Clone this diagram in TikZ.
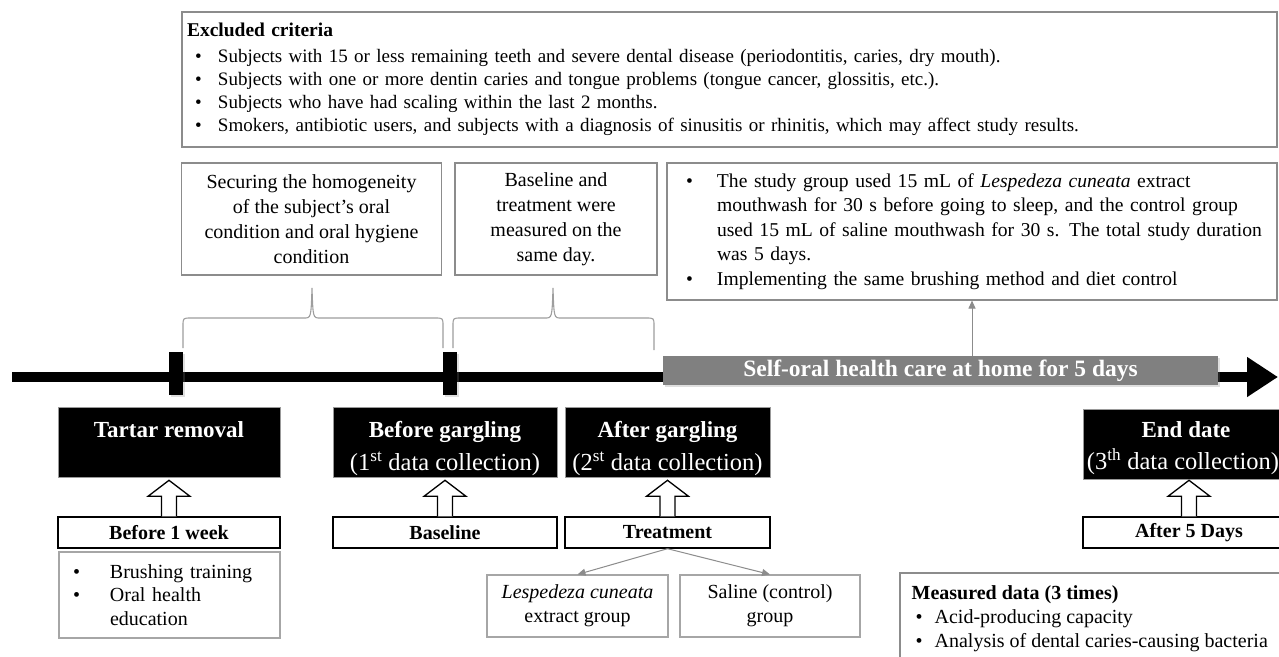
\documentclass[tikz,border=0pt]{standalone}
\usepackage{fontspec}
\setmainfont{Liberation Serif}
\usetikzlibrary{arrows.meta,calc,shadows}
\newcommand{\fs}[2]{\fontsize{#1}{#2}\selectfont}
\newcommand{\bul}[2]{\makebox[#1][l]{\hspace*{#2}\textbullet}}
\newcommand{\hollowup}[1]{%
  \draw[blockarrow] ($(#1.north)+(-7.5,0)$) -- ++(0,-20) -- ++(-13.5,0)
    -- ($(#1.north)+(0,-36)$) -- ($(#1.north)+(21,-20)$)
    -- ($(#1.north)+(7.5,-20)$) -- ($(#1.north)+(7.5,0)$);}
\begin{document}
\begin{tikzpicture}[x=1pt,y=-1pt,
  greybox/.style={draw=black!45, line width=1.1pt, fill=white, inner sep=0pt},
  lightbox/.style={draw=black!35, line width=1.1pt, fill=white, inner sep=0pt},
  blackbox/.style={draw=black!40, line width=0.8pt, fill=black, inner sep=0pt},
  btitle/.style={anchor=base, inner sep=0pt, text=white, font=\fs{23}{26}\bfseries},
  bsub/.style={anchor=base, inner sep=0pt, text=white, font=\fs{24.5}{28}},
  labelbox/.style={draw=black, line width=1.4pt, fill=white, inner sep=0pt, font=\fs{20}{22}\bfseries},
  thinarrow/.style={draw=black!45, line width=1pt, -{Triangle[length=8pt,width=7pt]}},
  bracestyle/.style={draw=black!38, line width=1.1pt},
  blockarrow/.style={draw=black, line width=1.3pt, fill=white, line join=miter},
  shade/.style={drop shadow={opacity=0.25, shadow xshift=2pt, shadow yshift=-2pt}},
]
\useasboundingbox (0,0) rectangle (1279,656);
\fill[white] (0,0) rectangle (1279,656);
\clip (0,0) rectangle (1279,656);

% top box
\node[greybox, minimum width=1095pt, minimum height=135pt, inner xsep=5pt,
      text width=1085pt, align=left, font=\fs{19}{23}] (excl) at (729.5,79.5)
 {{\fs{19.5}{23}\textbf{Excluded criteria}}\\[3pt]
  \bul{31pt}{8pt}Subjects with 15 or less remaining teeth and severe dental disease (periodontitis, caries, dry mouth).\\
  \bul{31pt}{8pt}Subjects with one or more dentin caries and tongue problems (tongue cancer, glossitis, etc.).\\
  \bul{31pt}{8pt}Subjects who have had scaling within the last 2 months.\\
  \bul{31pt}{8pt}Smokers, antibiotic users, and subjects with a diagnosis of sinusitis or rhinitis, which may affect study results.};

% middle boxes
\node[greybox, minimum width=260pt, minimum height=112pt, align=center, font=\fs{20}{25}] (secA) at (311.5,219)
 {Securing the homogeneity\\of the subject's oral\\condition and oral hygiene\\condition};
\node[greybox, minimum width=202pt, minimum height=112pt, align=center, font=\fs{20}{25}] (secB) at (556,219)
 {Baseline and\\treatment were\\measured on the\\same day.};
\node[greybox, minimum width=610pt, minimum height=137pt, inner xsep=4pt, text width=602pt,
      align=left, font=\fs{19.6}{24.5}] (secC) at (972,231.5)
 {\mbox{\bul{46pt}{15pt}The study group used 15 mL of \textit{Lespedeza cuneata} extract}\\
  \mbox{\hspace*{46pt}mouthwash for 30 s before going to sleep, and the control group}\\
  \mbox{\hspace*{46pt}used 15 mL of saline mouthwash for 30 s. The total study duration}\\
  \mbox{\hspace*{46pt}was 5 days.}\\
  \mbox{\bul{46pt}{15pt}Implementing the same brushing method and diet control}};

% braces
\draw[bracestyle] (183,348) -- (183,326) .. controls (183,318) .. (191,318) -- (304,318)
  .. controls (311,318) .. (312,288) .. controls (313,318) .. (320,318) -- (435,318)
  .. controls (443,318) .. (443,326) -- (443,348);
\draw[bracestyle] (453,348) -- (453,326) .. controls (453,318) .. (461,318) -- (545,318)
  .. controls (552,318) .. (553,288) .. controls (554,318) .. (561,318) -- (646,318)
  .. controls (654,318) .. (654,326) -- (654,350);

% timeline
\coordinate (ls) at (12,377);
\coordinate (le) at (1278,377);
\draw[line width=10pt, -{Triangle[length=31pt,width=38pt]}] (ls) -- (le);
\node[fill=black, minimum width=14pt, minimum height=43pt, inner sep=0pt, shade] (t1) at (175.5,373.5) {};
\node[fill=black, minimum width=14pt, minimum height=43pt, inner sep=0pt, shade] (t2) at (450,373.5) {};
\node[fill=black!50, minimum width=555pt, minimum height=29pt, inner sep=0pt, text=white,
      font=\fs{23.5}{26}\bfseries, shade] (bar) at (940.5,370.5) {Self-oral health care at home for 5 days};
\draw[thinarrow] (secC.south |- bar.north) -- (secC.south);

% black boxes
\node[blackbox, minimum width=222pt, minimum height=70pt] (tr) at (169,442.5) {};
\node[btitle] (trt) at ($(tr.north)+(0,30)$) {Tartar removal};
\node[blackbox, minimum width=224pt, minimum height=70pt] (bg) at (445,442.5) {};
\node[btitle] (bgt) at ($(bg.north)+(0,30)$) {Before gargling};
\node[bsub] (bgs) at ($(bg.north)+(0,63)$) {(1\textsuperscript{st} data collection)};
\node[blackbox, minimum width=205pt, minimum height=70pt] (ag) at (667.5,442.5) {};
\node[btitle] (agt) at ($(ag.north)+(0,30)$) {After gargling};
\node[bsub] (ags) at ($(ag.north)+(0,63)$) {(2\textsuperscript{st} data collection)};
\node[blackbox, minimum width=212pt, minimum height=70pt] (ed) at (1189,444.5) {};
\node[btitle] (edt) at ($(ed.north)+(-3,28)$) {End date};
\node[bsub] (eds) at ($(ed.north)+(-6,60)$) {(3\textsuperscript{th} data collection)};

% label boxes
\node[labelbox, minimum width=222pt, minimum height=31pt] (l1) at (169,532.5) {Before 1 week};
\node[labelbox, minimum width=224pt, minimum height=31pt] (l2) at (445,532.5) {Baseline};
\node[labelbox, minimum width=205pt, minimum height=31pt] (l3) at (667.5,532.5) {Treatment};
\node[labelbox, minimum width=212pt, minimum height=31pt] (l4) at (1189,532.5) {After 5 Days};
\hollowup{l1}
\hollowup{l2}
\hollowup{l3}
\hollowup{l4}

% lower boxes
\node[lightbox, minimum width=221pt, minimum height=86pt, inner xsep=10pt, text width=201pt,
      align=left, font=\fs{20}{23.5}] (bb) at (169.5,595)
 {\bul{41pt}{4pt}Brushing training\\
  \bul{41pt}{4pt}Oral health\\
  \hspace*{41pt}education};
\node[lightbox, minimum width=181pt, minimum height=62pt, align=center, font=\fs{20}{24}] (g1) at (577.5,606)
 {\textit{Lespedeza cuneata}\\extract group};
\node[lightbox, minimum width=180pt, minimum height=62pt, align=center, font=\fs{20}{24}] (g2) at (770,606)
 {Saline (control)\\group};
\draw[thinarrow] (l3.south) -- (g1.north);
\draw[thinarrow] (l3.south) -- (g2.north);

\node[greybox, minimum width=400pt, minimum height=130pt] (md) at (1100,638) {};
\node[anchor=north west, inner sep=0pt, align=left, font=\fs{20}{24}] (mdt) at ($(md.north west)+(12,13)$)
 {\textbf{Measured data (3 times)}\\
  \bul{23pt}{4pt}Acid-producing capacity\\
  \bul{23pt}{4pt}Analysis of dental caries-causing bacteria};
\end{tikzpicture}
\end{document}
